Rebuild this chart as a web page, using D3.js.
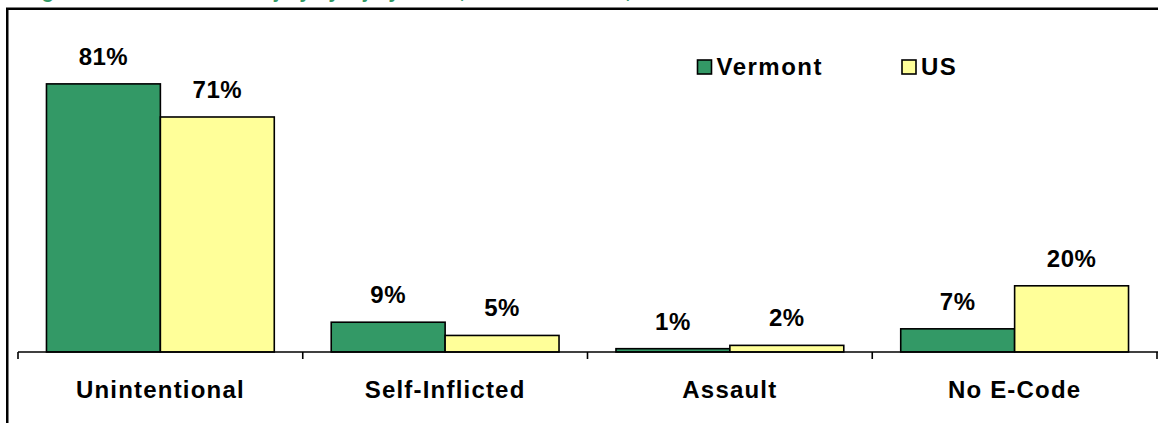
<!DOCTYPE html>
<html>
<head>
<meta charset="utf-8">
<script src="https://cdn.jsdelivr.net/npm/d3@7"></script>
<style>
  body { margin: 0; background: #fff; }
  svg { display: block; }
  text { font-family: Arial, "Liberation Sans", sans-serif; font-weight: bold; }
</style>
</head>
<body>
<svg id="chart"></svg>
<script>
// data
var categories = ["Unintentional", "Self-Inflicted", "Assault", "No E-Code"];
var series = ["Vermont", "US"];
var vermont = [0.81, 0.09, 0.01, 0.07];
var us = [0.71, 0.05, 0.02, 0.20];
var colors = ["#339966", "#FFFF99"];

var width = 1158, height = 423;
var svg = d3.select("#chart").attr("width", width).attr("height", height);

// title, cut off above the window in the original (only descenders show)
svg.append("text")
    .attr("x", 24)
    .attr("y", -2.5)
    .attr("fill", "#339966")
    .attr("font-size", "20px")
    .text("Figure 6: Distribution of Injury by Injury Intent, Vermont and US, 2005");

// frame round the chart, right and bottom run out of the window
svg.append("rect")
    .attr("x", 7.25)
    .attr("y", 8.75)
    .attr("width", 1200)
    .attr("height", 500)
    .attr("fill", "none")
    .attr("stroke", "#000")
    .attr("stroke-width", 2.5);

var x0 = d3.scaleBand().domain(categories).range([18, 1157]).padding(0);
var bw = x0.bandwidth();
var x1 = d3.scaleBand().domain(series).range([bw * 0.1, bw * 0.9]).padding(0);
var y = d3.scaleLinear().domain([0, 1]).range([352, 21]);

var rows = categories.map(function (c, i) {
    return { cat: c, values: [vermont[i], us[i]] };
});

var groups = svg.selectAll("g.cat")
    .data(rows)
    .enter().append("g")
    .attr("class", "cat")
    .attr("transform", function (d) { return "translate(" + x0(d.cat) + ",0)"; });

groups.selectAll("rect")
    .data(function (d) { return d.values.map(function (v, j) { return { s: series[j], v: v, j: j }; }); })
    .enter().append("rect")
    .attr("x", function (d) { return x1(d.s); })
    .attr("y", function (d) { return y(d.v); })
    .attr("width", x1.bandwidth())
    .attr("height", function (d) { return y(0) - y(d.v); })
    .attr("fill", function (d) { return colors[d.j]; })
    .attr("stroke", "#000")
    .attr("stroke-width", 1.6);

groups.selectAll("text.val")
    .data(function (d) { return d.values.map(function (v, j) { return { s: series[j], v: v }; }); })
    .enter().append("text")
    .attr("class", "val")
    .attr("x", function (d) { return x1(d.s) + x1.bandwidth() / 2; })
    .attr("y", function (d) { return y(d.v) - 19; })
    .attr("text-anchor", "middle")
    .attr("font-size", "24px")
    .attr("letter-spacing", "0.5px")
    .text(function (d) { return d3.format(".0%")(d.v); });

// category axis: line with ticks at the band edges
var axis = svg.append("g").attr("class", "axis");
axis.append("line")
    .attr("x1", x0.range()[0]).attr("x2", width + 5)
    .attr("y1", y(0)).attr("y2", y(0))
    .attr("stroke", "#000").attr("stroke-width", 1.6);

var edges = categories.map(function (c) { return x0(c); }).concat([x0.range()[1]]);
axis.selectAll("line.tick")
    .data(edges)
    .enter().append("line")
    .attr("class", "tick")
    .attr("x1", function (d) { return d; }).attr("x2", function (d) { return d; })
    .attr("y1", y(0)).attr("y2", y(0) + 7)
    .attr("stroke", "#000").attr("stroke-width", 1.6);

axis.selectAll("text")
    .data(categories)
    .enter().append("text")
    .attr("x", function (d) { return x0(d) + bw / 2; })
    .attr("y", 398)
    .attr("text-anchor", "middle")
    .attr("font-size", "24px")
    .attr("letter-spacing", "1.2px")
    .text(function (d) { return d; });

// legend
var legendX = [697.5, 902];
var legend = svg.selectAll("g.legend")
    .data(series)
    .enter().append("g")
    .attr("class", "legend")
    .attr("transform", function (d, i) { return "translate(" + legendX[i] + ",60)"; });

legend.append("rect")
    .attr("width", 14).attr("height", 14)
    .attr("fill", function (d, i) { return colors[i]; })
    .attr("stroke", "#000").attr("stroke-width", 1.6);

legend.append("text")
    .attr("x", 19)
    .attr("y", 15)
    .attr("font-size", "24px")
    .attr("letter-spacing", "1.5px")
    .text(function (d) { return d; });
</script>
</body>
</html>
